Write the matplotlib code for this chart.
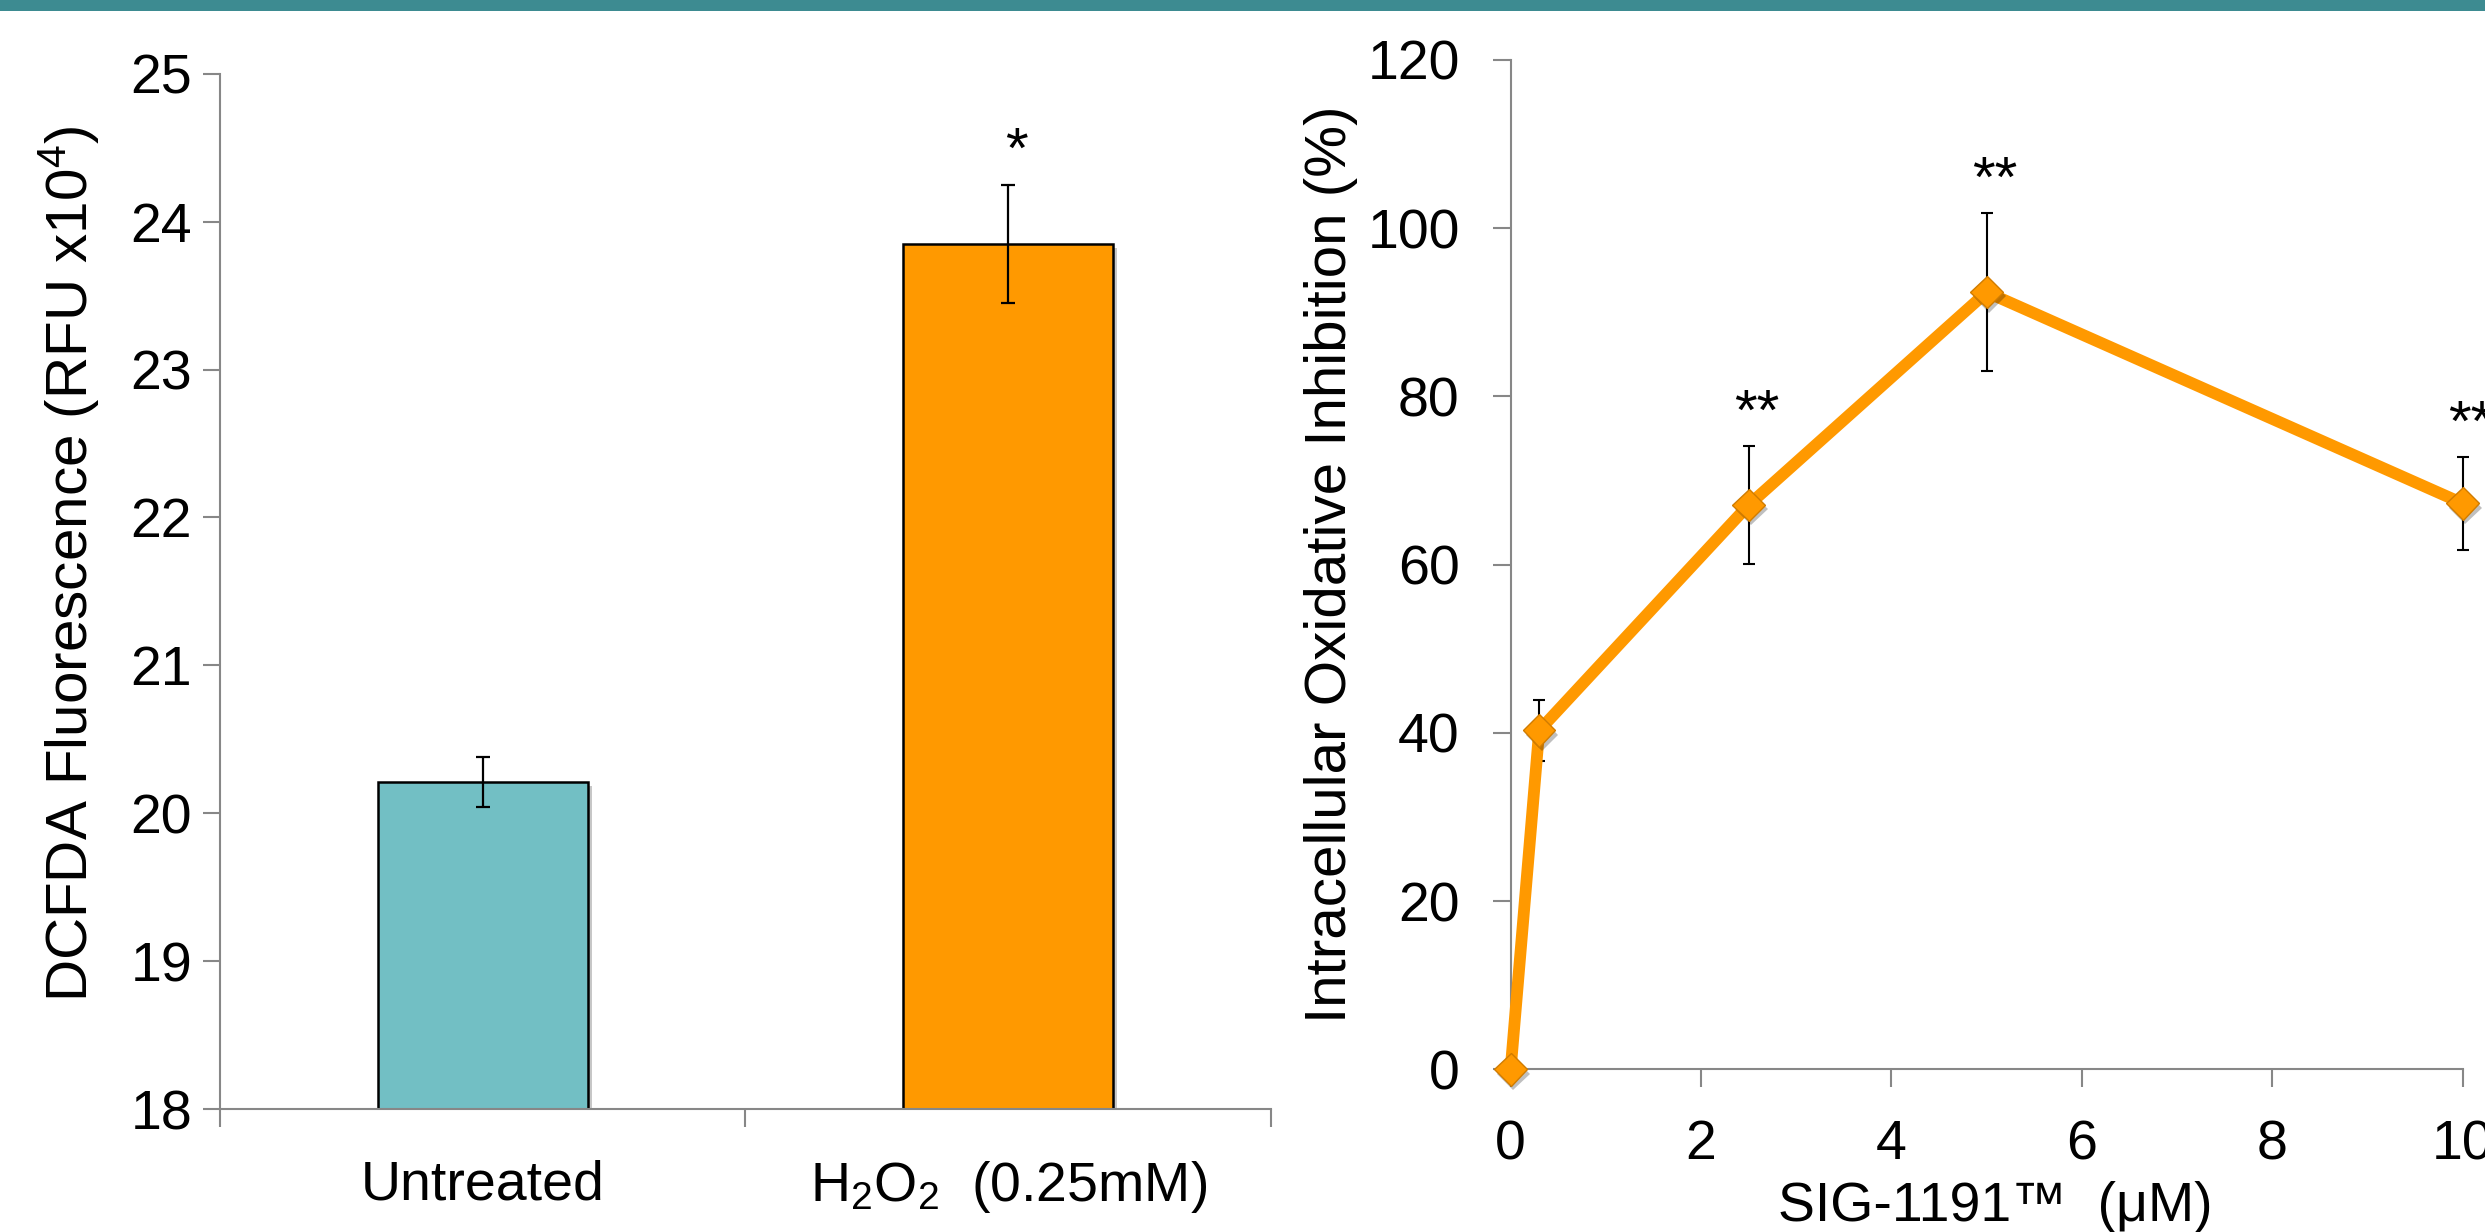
import matplotlib.pyplot as plt
import matplotlib.patches as mpatches
import matplotlib.patheffects as pe

plt.rcParams['font.family'] = ['Liberation Sans', 'DejaVu Sans']
plt.rcParams['mathtext.fontset'] = 'custom'
plt.rcParams['mathtext.rm'] = 'Liberation Sans'
plt.rcParams['mathtext.it'] = 'Liberation Sans:italic'
plt.rcParams['mathtext.bf'] = 'Liberation Sans:bold'

# left panel: DCFDA fluorescence per treatment
groups = ['Untreated', r'H$_2$O$_2$  (0.25mM)']
fluor = [20.21, 23.85]
fluor_err = [0.17, 0.40]
fluor_sig = ['', '*']

# right panel: inhibition vs SIG-1191 dose
dose = [0, 0.3, 2.5, 5, 10]
inhib = [0, 40.3, 67.1, 92.4, 67.3]
inhib_err = [0, 3.6, 7.0, 9.4, 5.5]
inhib_sig = ['', '', '**', '**', '**']

grey = '#878787'
teal = '#72bfc4'
orange = '#ff9900'

fig = plt.figure(figsize=(24.85, 12.32), dpi=100)

# teal band along the top
fig.add_artist(mpatches.Rectangle((0, 1 - 11 / 1232), 1, 11 / 1232,
                                  transform=fig.transFigure, color='#3d8b91', lw=0))

def style_axes(ax):
    for side in ['top', 'right']:
        ax.spines[side].set_visible(False)
    for side in ['left', 'bottom']:
        ax.spines[side].set_color(grey)
        ax.spines[side].set_linewidth(1.5)

# ---- left: bar chart
ax1 = fig.add_axes([0.0885, 0.0998, 0.4229, 0.8403])
xpos = list(range(len(groups)))
shadow = [pe.SimplePatchShadow(offset=(3, -3), shadow_rgbFace='k', alpha=0.22), pe.Normal()]
ax1.bar(xpos, fluor, width=0.4, color=[teal, orange], edgecolor='k', linewidth=1.8,
        path_effects=shadow, zorder=2)
ax1.errorbar(xpos, fluor, yerr=fluor_err, fmt='none', ecolor='k', elinewidth=1.6,
             capsize=4.7, capthick=1.6, zorder=3)
for xi, v, e, s in zip(xpos, fluor, fluor_err, fluor_sig):
    if s:
        ax1.annotate(s, (xi, v + e), xytext=(6, 12), textcoords='offset points',
                     ha='center', va='baseline', fontsize=42)

ax1.set_xlim(-0.5, 1.5)
ax1.set_ylim(18, 25)
ax1.set_yticks(range(18, 26))
ax1.set_xticks(xpos)
ax1.set_xticklabels(groups)
ax1.set_xticks([-0.5, 0.5, 1.5], minor=True)
ax1.tick_params(axis='x', which='major', length=0, pad=36, labelsize=40)
ax1.tick_params(axis='x', which='minor', length=13, width=1.5, color=grey)
ax1.tick_params(axis='y', length=12, width=1.5, color=grey, pad=8, labelsize=40)
style_axes(ax1)
ax1.set_ylabel(r'DCFDA Fluorescence (RFU x10$^4$)', fontsize=42)
ax1.yaxis.set_label_coords(-0.1132, 0.527)

# ---- right: dose response line
ax2 = fig.add_axes([0.6079, 0.1319, 0.3831, 0.8194])
ax2.errorbar(dose, inhib, yerr=inhib_err, fmt='none', ecolor='k', elinewidth=1.5,
             capsize=4.5, capthick=1.5, zorder=2, clip_on=False)
ax2.plot(dose, inhib, color=orange, lw=8.5, zorder=3, clip_on=False)
mshadow = [pe.SimplePatchShadow(offset=(2, -3), shadow_rgbFace='k', alpha=0.25), pe.Normal()]
ax2.plot(dose, inhib, 'D', ms=16.5, mfc=orange, mec='#d07c00', mew=1, zorder=4,
         clip_on=False, path_effects=mshadow)
for xi, v, e, s in zip(dose, inhib, inhib_err, inhib_sig):
    if s:
        ax2.annotate(s, (xi, v + e), xytext=(6, 12), textcoords='offset points',
                     ha='center', va='baseline', fontsize=42, annotation_clip=False)

ax2.set_xlim(0, 10)
ax2.set_ylim(0, 120)
ax2.set_xticks(range(0, 11, 2))
ax2.set_yticks(range(0, 121, 20))
ax2.tick_params(axis='x', length=13, width=1.5, color=grey, pad=23, labelsize=40)
ax2.tick_params(axis='y', length=12.7, width=1.5, color=grey, pad=24, labelsize=40)
style_axes(ax2)
ax2.set_xlabel('SIG-1191™  (μM)', fontsize=40)
ax2.xaxis.set_label_coords(0.509, -0.110)
ax2.set_ylabel('Intracellular Oxidative Inhibition (%)', fontsize=42)
ax2.yaxis.set_label_coords(-0.1604, 0.5)

fig.savefig('out.png', dpi=100)
